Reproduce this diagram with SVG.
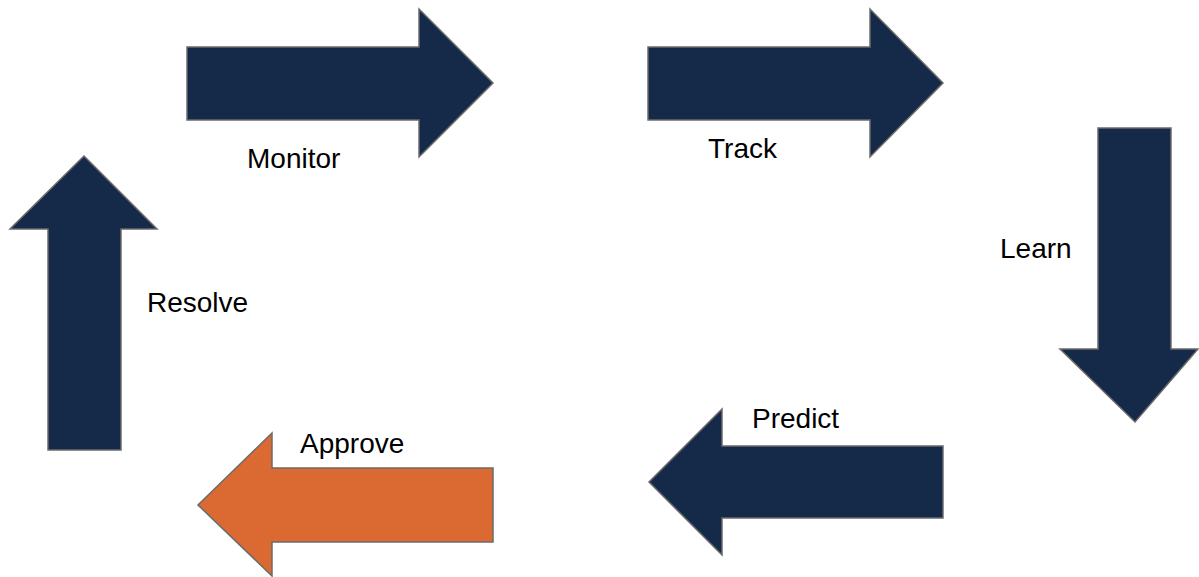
<svg xmlns="http://www.w3.org/2000/svg" width="1199" height="577" viewBox="0 0 1199 577">
<style>
.arrow{fill:#152949;stroke:#6b6b6b;stroke-width:1.5;stroke-linejoin:miter}
.orange{fill:#db6a32}
.lbl{font-family:"Liberation Sans",Arial,sans-serif;font-size:28px;fill:#000}
</style>
<rect width="1199" height="577" fill="#fff"/>
<g id="connectors"></g>
<g id="monitor">
<polygon class="arrow" points="187,47 419,47 419,9 493,83 419,157 419,120 187,120"/>
<text class="lbl" x="247" y="168">Monitor</text>
</g>
<g id="track">
<polygon class="arrow" points="648,47 870,47 870,9 943,83 870,157 870,120 648,120"/>
<text class="lbl" x="708" y="158">Track</text>
</g>
<g id="learn">
<polygon class="arrow" points="1098,128 1171,128 1171,349 1198,349 1135,422 1060,349 1098,349"/>
<text class="lbl" x="1000" y="258">Learn</text>
</g>
<g id="predict">
<polygon class="arrow" points="943,446 722,446 722,409 649,482 722,555 722,518 943,518"/>
<text class="lbl" x="752" y="428">Predict</text>
</g>
<g id="approve">
<polygon class="arrow orange" points="493,468 272,468 272,433 198,505 272,576 272,542 493,542"/>
<text class="lbl" x="300" y="453">Approve</text>
</g>
<g id="resolve">
<polygon class="arrow" points="48,450 48,229 10,229 84,156 157,229 121,229 121,450"/>
<text class="lbl" x="147" y="312">Resolve</text>
</g>
</svg>
